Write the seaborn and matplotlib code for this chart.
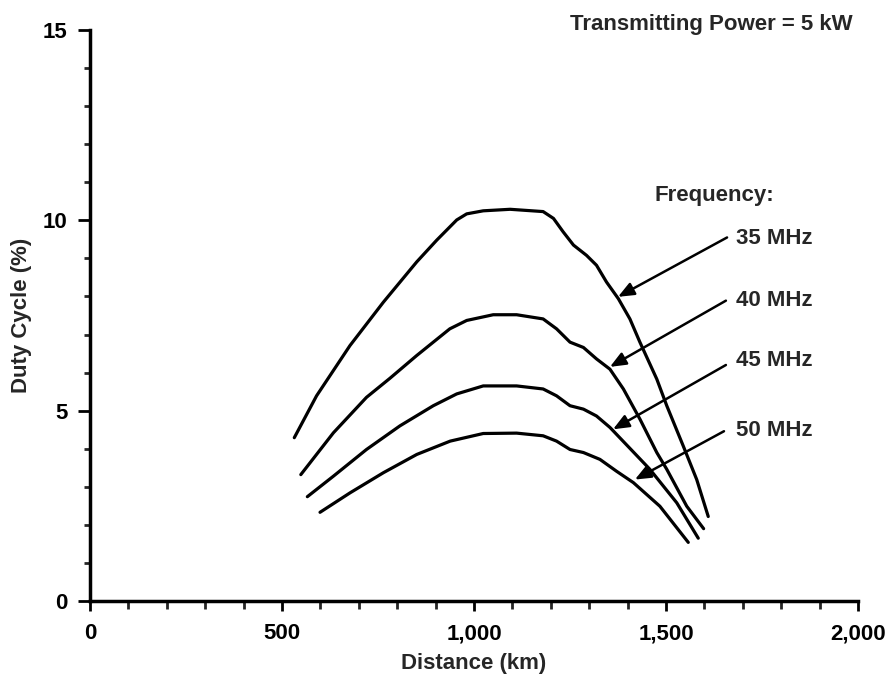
import matplotlib
matplotlib.use("Agg")
import matplotlib.pyplot as plt
import seaborn as sns
import pandas as pd
from matplotlib.ticker import MultipleLocator

# Duty cycle versus distance for four operating frequencies (5 kW transmitter)
frequencies = ["35 MHz", "40 MHz", "45 MHz", "50 MHz"]

dist_35 = [532, 590, 677, 764, 851, 903, 955, 981, 1024, 1094, 1180, 1207,
           1232, 1259, 1293, 1319, 1345, 1376, 1406, 1432, 1476, 1502, 1545,
           1580, 1610]
duty_35 = [4.29, 5.39, 6.71, 7.85, 8.91, 9.48, 10.01, 10.17, 10.25, 10.29,
           10.23, 10.05, 9.70, 9.35, 9.08, 8.82, 8.38, 7.94, 7.41, 6.80, 5.83,
           5.13, 4.07, 3.19, 2.22]

dist_40 = [549, 634, 720, 781, 851, 937, 981, 1050, 1111, 1180, 1215, 1250,
           1285, 1319, 1354, 1389, 1432, 1476, 1502, 1554, 1598]
duty_40 = [3.32, 4.42, 5.35, 5.85, 6.45, 7.15, 7.37, 7.52, 7.52, 7.41, 7.15,
           6.80, 6.66, 6.36, 6.09, 5.57, 4.78, 3.90, 3.46, 2.49, 1.90]

dist_45 = [566, 634, 720, 807, 894, 955, 1024, 1111, 1180, 1215, 1250, 1285,
           1319, 1354, 1458, 1528, 1584]
duty_45 = [2.74, 3.28, 3.98, 4.60, 5.13, 5.44, 5.65, 5.65, 5.57, 5.39, 5.13,
           5.04, 4.86, 4.56, 3.46, 2.58, 1.65]

dist_50 = [599, 677, 764, 851, 938, 1024, 1111, 1180, 1215, 1250, 1285, 1328,
           1371, 1415, 1484, 1558]
duty_50 = [2.33, 2.84, 3.37, 3.85, 4.20, 4.40, 4.41, 4.34, 4.20, 3.98, 3.90,
           3.72, 3.41, 3.11, 2.49, 1.54]

x_ticks = [0, 500, 1000, 1500, 2000]
x_tick_labels = ["0", "500", "1,000", "1,500", "2,000"]
y_ticks = [0, 5, 10, 15]
y_tick_labels = ["0", "5", "10", "15"]

frames = []
for name, d, v in zip(frequencies,
                      [dist_35, dist_40, dist_45, dist_50],
                      [duty_35, duty_40, duty_45, duty_50]):
    frames.append(pd.DataFrame({"Distance (km)": d,
                                "Duty Cycle (%)": v,
                                "Frequency": name}))
df = pd.concat(frames, ignore_index=True)

sns.set_style("ticks")
plt.rcParams["font.family"] = ["Liberation Sans", "DejaVu Sans"]
plt.rcParams["font.weight"] = "bold"
plt.rcParams["font.size"] = 16

fig = plt.figure(figsize=(8.85, 6.8), dpi=100)
ax = fig.add_axes([90 / 885, 79 / 680, 768 / 885, 571 / 680])

sns.lineplot(data=df, x="Distance (km)", y="Duty Cycle (%)", hue="Frequency",
             palette=["black"] * 4, estimator=None, sort=False, legend=False,
             lw=2.3, solid_joinstyle="round", solid_capstyle="round", ax=ax)

ax.set_xlim(0, 2000)
ax.set_ylim(0, 15)
sns.despine(ax=ax)
for side in ("left", "bottom"):
    ax.spines[side].set_linewidth(2.5)
    ax.spines[side].set_color("black")

ax.set_xticks(x_ticks, x_tick_labels)
ax.set_yticks(y_ticks, y_tick_labels)
ax.xaxis.set_minor_locator(MultipleLocator(100))
ax.yaxis.set_minor_locator(MultipleLocator(1))
ax.tick_params(axis="x", which="major", length=7, width=2, pad=9,
               labelsize=16, colors="black")
ax.tick_params(axis="x", which="minor", length=6, width=2)
ax.tick_params(axis="y", which="major", length=9, width=2, pad=7,
               labelsize=16, colors="black")
ax.tick_params(axis="y", which="minor", length=4, width=2)

ax.set_xlabel("Distance (km)", fontsize=16, fontweight="bold", labelpad=6)
ax.set_ylabel("Duty Cycle (%)", fontsize=16, fontweight="bold", labelpad=8)

ax.text(1987, 15.14, "Transmitting Power = 5 kW", ha="right", va="center",
        fontsize=16, clip_on=False)
ax.text(1469, 10.66, "Frequency:", ha="left", va="center", fontsize=16)

# leader arrows from each frequency label to its curve
arrow_tails = [(1659, 9.55), (1656, 7.89), (1656, 6.20), (1651, 4.46)]
arrow_heads = [(1375, 7.99), (1354, 6.15), (1362, 4.51), (1419, 3.19)]
label_y = [9.52, 7.89, 6.31, 4.49]
for name, tail, head, ly in zip(frequencies, arrow_tails, arrow_heads, label_y):
    ax.annotate("", xy=head, xytext=tail,
                arrowprops=dict(arrowstyle="-|>,head_length=0.6,head_width=0.25",
                                color="black", lw=1.8, shrinkA=0, shrinkB=0))
    ax.text(1682, ly, name, ha="left", va="center", fontsize=16)

fig.savefig("out.png", dpi=100)
